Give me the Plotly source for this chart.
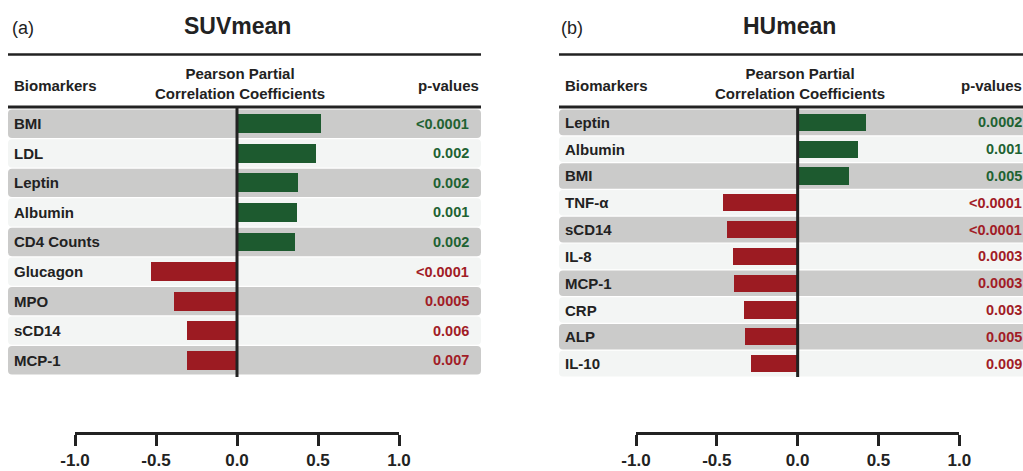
import plotly.graph_objects as go

W, H = 1023, 471

# ---- data ----
suv_markers = ["BMI", "LDL", "Leptin", "Albumin", "CD4 Counts", "Glucagon", "MPO", "sCD14", "MCP-1"]
suv_coef = [0.52, 0.49, 0.375, 0.37, 0.355, -0.53, -0.39, -0.31, -0.31]
suv_p = ["<0.0001", "0.002", "0.002", "0.001", "0.002", "<0.0001", "0.0005", "0.006", "0.007"]

hu_markers = ["Leptin", "Albumin", "BMI", "TNF-α", "sCD14", "IL-8", "MCP-1", "CRP", "ALP", "IL-10"]
hu_coef = [0.42, 0.375, 0.32, -0.46, -0.44, -0.40, -0.395, -0.335, -0.325, -0.29]
hu_p = ["0.0002", "0.001", "0.005", "<0.0001", "<0.0001", "0.0003", "0.0003", "0.003", "0.005", "0.009"]

tick_vals = [-1.0, -0.5, 0.0, 0.5, 1.0]
tick_text = ["-1.0", "-0.5", "0.0", "0.5", "1.0"]

GREEN = "#1d5a2f"
RED = "#9c1b22"
GREEN_TXT = "#1f6232"
RED_TXT = "#a11c26"
BAND_DARK = "#cbcbca"
BAND_LIGHT = "#f3f5f4"
INK = "#222222"
FONT = "Liberation Sans"


def px(x):
    return x / W


def py(y):
    return 1 - y / H


def rounded_band(x0, x1, y0, y1, rx, ry):
    # x in paper units, y in category units (rounded rectangle path)
    return ("M {a},{y0} L {b},{y0} Q {x1},{y0} {x1},{c} L {x1},{d} Q {x1},{y1} {b},{y1} "
            "L {a},{y1} Q {x0},{y1} {x0},{d} L {x0},{c} Q {x0},{y0} {a},{y0} Z").format(
        a=x0 + rx, b=x1 - rx, c=y0 + ry, d=y1 - ry, x0=x0, x1=x1, y0=y0, y1=y1)


panels = [
    dict(markers=suv_markers, coef=suv_coef, p=suv_p, xa="x", ya="y",
         xdom=[px(75), px(399)], ydom=[py(375), py(109)],
         band_x=[px(8), px(481)], label_x=px(12), p_x=px(471),
         letter="(a)", letter_x=px(10), title="SUVmean", title_x=px(237.5),
         head_x=px(240), pv_x=px(481), row_px=29.6),
    dict(markers=hu_markers, coef=hu_coef, p=hu_p, xa="x2", ya="y2",
         xdom=[px(636), px(959.3)], ydom=[py(377), py(109)],
         band_x=[px(559), px(1030)], label_x=px(563), p_x=px(1023.5),
         letter="(b)", letter_x=px(559), title="HUmean", title_x=px(789),
         head_x=px(799.5), pv_x=px(1023.5), row_px=26.8),
]

fig = go.Figure()
shapes = []
annotations = []
layout_axes = {}

for k, pn in enumerate(panels):
    n = len(pn["markers"])
    idx = list(range(n))
    colors = [GREEN if v > 0 else RED for v in pn["coef"]]
    fig.add_trace(go.Bar(
        x=pn["coef"], y=idx, orientation="h", marker_color=colors,
        marker_line_width=0, width=0.64, xaxis=pn["xa"], yaxis=pn["ya"],
        showlegend=False, hoverinfo="skip"))

    xname = "xaxis" if k == 0 else "xaxis2"
    yname = "yaxis" if k == 0 else "yaxis2"
    layout_axes[xname] = dict(
        domain=pn["xdom"], range=[-1, 1], anchor="free", position=py(433),
        showline=True, linewidth=3, linecolor=INK, ticks="outside",
        ticklen=11, tickwidth=3, tickcolor=INK, tickvals=tick_vals,
        ticktext=tick_text, tickfont=dict(family=FONT, size=17, color=INK, weight="bold"),
        showgrid=False, zeroline=False, fixedrange=True, automargin=False)
    layout_axes[yname] = dict(
        domain=pn["ydom"], range=[n - 0.5, -0.5], anchor=pn["xa"],
        showticklabels=False, showgrid=False, zeroline=False, showline=False,
        ticks="", fixedrange=True, automargin=False)

    yref = pn["ya"]
    rx = 4 / W
    ry = 4 / pn["row_px"]
    gap = 0.6 / pn["row_px"]
    for i in idx:
        shapes.append(dict(type="path", xref="paper", yref=yref,
                           path=rounded_band(pn["band_x"][0], pn["band_x"][1],
                                             i - 0.5 + gap, i + 0.5 - gap, rx, ry),
                           line_width=0,
                           fillcolor=BAND_DARK if i % 2 == 0 else BAND_LIGHT,
                           layer="below"))
        annotations.append(dict(xref="paper", yref=yref, x=pn["label_x"], y=i,
                                xanchor="left", yanchor="middle", showarrow=False,
                                text="<b>%s</b>" % pn["markers"][i],
                                font=dict(family=FONT, size=15, color=INK)))
        annotations.append(dict(xref="paper", yref=yref, x=pn["p_x"], y=i,
                                xanchor="right", yanchor="middle", showarrow=False,
                                text="<b>%s</b>" % pn["p"][i],
                                font=dict(family=FONT, size=14.5,
                                          color=GREEN_TXT if pn["coef"][i] > 0 else RED_TXT)))

    # zero line
    shapes.append(dict(type="line", xref=pn["xa"], yref="paper", x0=0, x1=0,
                       y0=py(377), y1=py(106), line=dict(color=INK, width=3), layer="above"))
    # header lines
    shapes.append(dict(type="line", xref="paper", yref="paper", x0=pn["band_x"][0],
                       x1=pn["band_x"][1], y0=py(54.5), y1=py(54.5),
                       line=dict(color=INK, width=2.5)))
    shapes.append(dict(type="line", xref="paper", yref="paper", x0=pn["band_x"][0],
                       x1=pn["band_x"][1], y0=py(107), y1=py(107),
                       line=dict(color=INK, width=3)))

    # titles / header
    annotations.append(dict(xref="paper", yref="paper", x=pn["letter_x"], y=py(28),
                            xanchor="left", yanchor="middle", showarrow=False,
                            text=pn["letter"], font=dict(family=FONT, size=18, color=INK)))
    annotations.append(dict(xref="paper", yref="paper", x=pn["title_x"], y=py(26),
                            xanchor="center", yanchor="middle", showarrow=False,
                            text="<b>%s</b>" % pn["title"], font=dict(family=FONT, size=23, color=INK)))
    annotations.append(dict(xref="paper", yref="paper", x=pn["label_x"], y=py(86),
                            xanchor="left", yanchor="middle", showarrow=False,
                            text="<b>Biomarkers</b>", font=dict(family=FONT, size=15, color=INK)))
    annotations.append(dict(xref="paper", yref="paper", x=pn["head_x"], y=py(84),
                            xanchor="center", yanchor="middle", showarrow=False,
                            text="<b>Pearson Partial</b><br><b>Correlation Coefficients</b>",
                            font=dict(family=FONT, size=15, color=INK)))
    annotations.append(dict(xref="paper", yref="paper", x=pn["pv_x"], y=py(86),
                            xanchor="right", yanchor="middle", showarrow=False,
                            text="<b>p-values</b>", font=dict(family=FONT, size=15, color=INK)))

fig.update_layout(
    width=W, height=H, margin=dict(l=0, r=0, t=0, b=0, autoexpand=False), autosize=False,
    paper_bgcolor="white", plot_bgcolor="rgba(0,0,0,0)",
    shapes=shapes, annotations=annotations, bargap=0, showlegend=False,
    **layout_axes)

fig.write_html(
    "out.html",
    config={"responsive": False, "displayModeBar": False},
    post_script="document.body.style.margin='0';document.body.style.overflow='hidden';",
)
